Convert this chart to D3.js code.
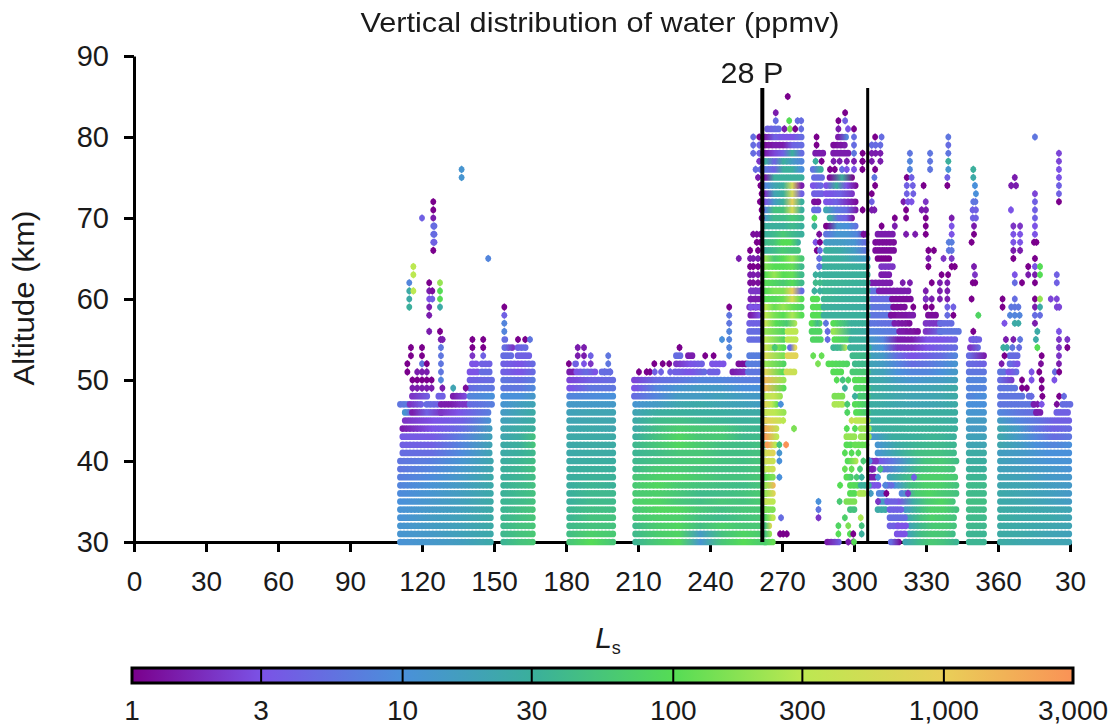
<!DOCTYPE html>
<html><head><meta charset="utf-8">
<script src="https://cdn.jsdelivr.net/npm/d3@7"></script>
<style>
html,body{margin:0;padding:0;background:#fff}
svg{display:block}
text{font-family:"Liberation Sans",Arial,sans-serif;fill:#1a1a1a}
</style></head><body>
<script>
// Runs of contiguous observations: [altitude km, Ls start, Ls end, ppmv at evenly spaced stops...]
const bandA = [
[30,111,149,11,13,16,24],[31,111,149,12,14,18,24],[32,111,149,12,15,18,25],[33,111,149,11,15,18,25],
[34,111,149,11,14,17,25],[35,111,149,10,13,17,25],[36,111,149,9,12,16,24],[37,111,149,8,11,15,24],
[38,111,149,7,9,14,24],[39,111,149,6,8,13,22],[40,111,149,6,7,12,22],[41,112,149,5,5,9,20],
[42,112,149,4,4,8,20],[43,112,149,3.5,3.5,7,18],[44,112,149,1.5,3,5,16],[45,113,149,2,3,4,12],
[46,113,116,12,3],[46,116,128,1.5,4,2],[46,128,149,2,3,5,7],[47,111,114,6,7],[47,115,120,2,4],
[47,122,127,5,4],[47,128,140,1.5,1.5,2,2],[47,140,149,5,7],[48,116,123,2,4],[48,127,129,4],[48,133,139,1.5,3],
[48,140,149,8,10],[49,140,149,5,6,6],[50,140,149,4,5],[51,140,143.5,3],[51,145,149,5],[52,141,143,3],[52,145,149,4]
];
const bandB = [
[30,154,167.5,35,50,60],[31,154,167.5,38,50,60],[32,154,167.5,38,48,55],[33,154,167.5,36,45,55],[34,154,167.5,35,45,55],
[35,154,167.5,35,40,50],[36,154,167.5,32,40,50],[37,154,167.5,32,38,48],[38,154,167.5,30,35,45],[39,154,167.5,30,36,50],
[40,154,167.5,28,35,45],[41,154,167.5,25,30,40],[42,154,167.5,25,30,55],[43,154,167.5,22,28,50],[44,154,167.5,22,26,30],
[45,154,167.5,18,22,28],[46,154,167.5,15,20,26],[47,154,167.5,12,16,20],[48,154,167.5,10,10,14],[49,154,167.5,6,6,9],
[50,154,167.5,6,5,7],[51,154,167,4,3,5],[52,154,167,4,3,5],[53,154,158,5],[53,160,165,4],[54,154.5,158,5,2],[54,160,163,4,5],[55,154.5,155.5,5]
];
const bandC = [
[30,181.5,199.5,55,100,55],[31,181.5,199.5,45,70,60],[32,181.5,199.5,40,50,50],[33,181.5,199.5,35,50,50],[34,181.5,199.5,35,45,45],
[35,181.5,199.5,30,40,40],[36,181.5,199.5,30,38,38],[37,181.5,199.5,28,35,32],[38,181.5,199.5,28,32,32],[39,181.5,199.5,28,30,30],
[40,181.5,199.5,25,28,28],[41,181.5,199.5,24,26,26],[42,181.5,199.5,24,26,26],[43,181.5,199.5,24,25,25],[44,181.5,199.5,22,24,22],
[45,181.5,199.5,20,22,22],[46,181.5,199.5,18,20,20],[47,181.5,199.5,14,14,14],[48,181.5,199.5,8,9,10],[49,181.5,199.5,3,6,6],
[50,181.5,199.5,2.5,4,5],[51,181.5,183,1.5],[51,184.5,192,3,5,3],[51,195,199.5,5],[52,184,185,4]
];
const bandD = [
[30,209,263,35,60,90,12,55,100,60],[31,209,263,40,65,80,15,50,80,60],[32,209,263,40,65,85,45,70,55,60],
[33,209,263,55,70,70,45,40,50,60],[34,209,263,55,85,85,55,45,55,60],[35,209,263,70,80,55,45,55,50,65],
[36,209,263,60,70,55,40,42,50,65],[37,209,263,60,85,60,50,45,42,55],[38,209,263,55,70,75,60,50,50,60],
[39,209,263,40,60,60,50,45,45,55],[40,209,263,38,48,55,60,50,45,55],[41,209,263,35,42,55,55,45,45,50],
[42,209,263,38,55,85,60,45,42,50],[43,209,263,30,50,80,55,60,38,42],[44,209,263,25,45,65,55,55,38,35],
[45,209,263,25,40,45,38,33,30,33],[46,209,263,20,28,30,28,28,25,25],[47,209,263,12,15,22,25,20,18,15],
[48,208.5,263,5,8,15,15,18,15,14],[49,208.5,263,3,8,12,15,14,10,10],[50,208.5,263,2.5,5,6,8,8,7,7],
[51,225.5,238,4,3,5],[51,240,244,4],[51,249.5,255,1.5,2],[51,256,261,6],
[52,226,237,2,3,4],[52,241,247,3],[52,252,255,1.2],[52,256,261,7],
[53,226,229,5],[53,231,233,1.5],[53,256.5,261,7],[55,256.5,261,5],[56,256.5,261,5],[57,256.5,261,4],[58,257,261,1.5,3],
[59,256.5,261,2],[60,257,261,1.5],[61,258,261,2]
];
const bandE = [
[30,263,266,70,120],[31,263,265.5,50,200],[32,263,265.5,50,600],[33,263,266,80,300],[34,263,266,150,150],[35,263,266,400,300],
[36,263,267,200,800],[37,263,267,200,1500],[38,263,266,100,150],[39,263,267,300,500],[40,263,267,500,400],[41,263,266.5,500,800],
[42,264,267,2500,300],[43,263,268,2500,300],[44,263,269,2000,300],[45,263,269.5,1000,400],[46,263,271,400,300,200],
[47,263,268.5,800,300,100],[48,263,270,300,400,200],[49,263,271,1500,100],[50,263,271,1500,200],[51,263,270.5,800,100],
[51,272,276.5,500,400],[52,263,271,200,80],[53,263,270.5,600,150],[53,272.5,276,800],[54,263,270.5,400,100],[54,273.5,275.5,5,800],
[55,263,271,300,80],[55,272.5,276.5,300],[56,263,271,200,80],[56,272.5,276.5,300],[57,263,276.5,400,100,60,300],
[58,263,278,300,150,100,250,100],[59,263,278,300,120,200,120,80],[60,263,278,100,90,120,600,100],[61,263,278,100,150,150,1000,5],
[62,263,278,100,80,60,100,40],[63,263,278,100,200,100,120,40],[64,263,278,150,100,100,120,40],[65,263,278,200,60,100,200,60],
[66,263,277.5,30,40,60,50,50],[67,263,277,40,50,100,100,30],[68,263,278,30,40,60,40,30],[69,263,278,30,30,30,40,30],
[70,263,278,15,40,40,60,40],[71,263,278,8,50,50,600,30],[72,263,278,3,15,30,1000,30],[73,263,278,2,20,30,600,4],
[74,263,278,8,20,30,600,1.5],[75,263,278,1.5,30,30,30,30],[76,263,278,6,4,30,30,10],[77,263,278,30,4,30,15,8],
[78,263,278,1.5,2.5,4,30,5],[79,263,278,1.2,1.5,1.5,4,5],[80,263,278,1.5,4,3,3,5],[81,264,268.5,4,5]
];
const bandE2 = [
[76,283,286,6,30],[75,283.5,287,5],[74,283,287,3,5],[73,283.5,287,4],[72,283.5,286.5,1.2],[71,283.5,286.5,5],[60,283,285.5,100,100],
[59,283,289,100,100],[58,283,286.5,100,100],[57,282.5,287,100,40,100],[56,282.5,287,80],[55,283,286.5,80],[78,284,287,1.5],
[43,297,300.5,200],[42,297,299.5,100],[40,297.5,302,100,300],[38,297,299.5,100,60],[37,298.5,302.5,100,80],[36,298.5,300.5,100],
[35,297,301,150],[34,298.5,301,50],[47,292,295,250],[48,292,295,150],[51,291.5,295.5,100],[30,289,294.5,1.5,4],
[74,288.5,301,3,30,3,1.2],[73,288.5,300,3,4,2],[72,288.5,301,3,4,2,1.2],[71,288.5,301,20,7,5,1.5],[70,290,300,30,5,4,1.2],
[69,288.5,302,1,12,10,5],[68,288.5,305.5,6,12,12,8,1.5],[67,288.5,306,15,15,12,4],[66,288.5,306,30,25,15,5],
[65,287.5,306,30,30,20,14],[64,287.5,306,30,30,28],[63,287.5,306,30,30],[62,287.5,306,35,30],[61,287.5,306,35,30,30],
[60,287.5,306,35,30,30],[59,287.5,306,30,28],[58,287.5,306,30,30],[57,291.5,306,100,30,30],[56,291.5,306,200,30,25],
[55,292,298,100,60],[55,299,306,30],[54,291.5,297,35,40,300],[54,298.5,306,30],[53,299.5,306,40],[52,289.5,298,100,80],
[52,300.5,306,40],[51,299.5,306,60],[50,300.5,306,100],[49,301,306,80],[48,302.5,306,60],[47,300.5,306,100,60],[46,301,306,100,60],
[45,301,306,300],[44,303,306,200],[43,303,306,200],[42,300.5,306,120],[37,303,306,30],[36,302.5,304.5,250],[80,293.5,297,1.5,8],
[79,291.5,297,1.2,1.5],[78,291.5,297.5,1.5],[75,290,300,1.2,30,1]
];
const bandF = [
[30,321.5,342.5,20,40,60,50,35],[31,323,342.5,20,45,60,55,40],[32,323.5,342.5,20,40,60,60,50],[33,322,342.5,20,45,70,60,50],
[34,321.5,342.5,15,40,70,70,50],[35,318.5,342.5,3,25,60,80,50],[36,320,342.5,8,60,80,60,50],[37,317,342.5,10,45,70,70,50],
[38,315,342.5,20,40,70,70,60],[39,311,342.5,5,15,45,60,50],[40,309.5,342.5,3,6,20,50,60,45],[41,310,342.5,12,25,45,50,40],
[42,310,342.5,12,25,35,40,35],[43,307,342.5,12,28,30,35,30],[44,306,342.5,28,30,32,32,30],[45,306,342.5,28,30,30,30,28],
[46,306,342.5,30,28,28,28,28],[47,306,342.5,28,25,22,20,20,22,25],[48,306,342.5,28,25,22,20,20,22,25],[49,306,342.5,28,25,22,20,20,22,25],
[50,306,342.5,25,22,15,12,14,15,18],[51,306,342.5,22,18,10,8,8,10,14],[52,306,342.5,20,15,8,5,6,8,12],[53,306,342.5,18,14,5,3,4,5,8],
[54,306,342.5,15,10,2,2,3,4,5],[55,306,342.5,15,8,1.5,1.5,3,3,4],[56,306.5,317.5,8,7,6],[56,319,327,1.5,1.2],[56,330,336,2,5],[56,336,343.5,6],
[57,307,317,6,5],[57,317,323.5,1.5,1.2],[57,330,336,2],[57,336,342,5],[58,307.5,315.5,6],[58,315.5,325,1.2,1.5],[58,331,335,1.2],
[59,307.5,316.5,6],[59,316.5,321,1.2],[60,307.5,315,5],[60,316,325,1.2],[61,307.5,310,6],[61,310.5,324,1.5],[62,307.5,316.5,1.5],
[63,311.5,315.5,1.5],[64,311.5,316,2],[65,310,315,1],[66,309,317,1.2],[67,309,317,1.2],[68,310,316.5,1.5],
[37,307,310,3],[38,307,309,1.5],[39,306.5,308,2],[35,310.5,314,15],[35,314,317.5,4],[34,310,314,25],[34,315,320.5,4],
[33,315,321,5],[32,315,318,4],[32,318.5,322,3],[31,318,322,3],[30,315.5,320,5,1],[36,310.5,312.5,8],[37,314,316,5],[40,307.5,310,2]
];
const bandG = [
[30,348,355,35],[31,348,355,35],[32,348,355,38],[33,348,355,40],[34,348,355,42],[35,348,355,45],[36,348,355,40],[37,348,355,40],
[38,348,355,35],[39,348,355,30],[40,348,355,28],[41,348,355,26],[42,348,355,20],[43,348,355,18],[44,348,355,15],[45,348,355,15],
[46,348,355,12],[47,348,355,10],[48,348,355,8,10],[49,348,355,8],[50,348,355,8],[51,348,355,6],[52,348,355,5,4],[53,348,354.5,5,1.5],
[54,348.5,352.5,2,5],[55,349,352,3,4]
];
const bandH = [
[30,361,390.5,26,22,20,20],[31,361,390.5,26,24,20,18],[32,361,390.5,26,24,22,20],[33,361,390.5,28,24,24,20],[34,361,390.5,26,24,22,20],
[35,361,390.5,24,22,18,15],[36,361,390.5,24,20,17,14],[37,361,390.5,22,20,16,14],[38,361,390.5,20,18,14,13],[39,361,390.5,18,16,14,11],
[40,361,390.5,18,14,11,11],[41,361,390.5,16,14,10,10],[42,361,390.5,22,16,10,8,10],[43,361,390.5,22,14,8,5,6],[44,361,390.5,22,14,6,4,5],
[45,361,390.5,15,8,6,4,4],[46,361,376,8,6,5],[46,376,378,1.5],[46,384.5,390.5,4],[47,361,375,6],[47,375,376,1.5],[47,387,390.5,5],
[48,361,371,6],[48,373,374,5],[49,361,367.5,6],[50,361,367,5,2],[51,361,364,6],[51,364.5,368,3,5],[52,365,368,5,3],[53,365,368,5]
];
// Isolated soundings: [altitude km, ppmv, Ls, Ls, ...]
const scatter = [
[85,1,272.4],[83,1.5,267.4],[83,1,296.3],[82,5,267.4],[82,100,273],[82,5,276.5,278],[82,1,293.5],[82,4,296.3],
[81,1.5,271],[81,150,273.3],[81,1,275.5],[81,5,278],[81,1.5,293.5],[81,3,297.5],[81,1,300],
[80,5,258],[80,1,260.5],[80,1,284.4],[80,5,300],[80,1,308.8],[80,5,311.5],[80,6,339.3,375.4],
[79,5,258],[79,4,260.5],[79,1,284.4],[79,5,300],[79,5,307.4,309,311,339.3],
[78,5,258],[78,4,260.5],[78,6,300],[78,1,303.6],[78,1.5,307.4,309,311],[78,6,323.3,331.7],[78,6,339.3],[78,2.5,385.4],
[77,2,260.5],[77,30,284],[77,1,286.5],[77,1.5,291.5,294,297,300,303.5],[77,1,303.6],[77,1.5,307.4,311],[77,8,323.3],[77,6,331.7],[77,30,339.3],[77,2.5,385.4],
[76,5,259,261],[76,1,290,292],[76,5,295],[76,3,297,300],[76,1,303.5,308.8],[76,8,323.3],[76,6,331.7],[76,12,339.3],[76,30,349.7],[76,3,385.4],[76,12,136.5],
[75,1.5,260],[75,1,322],[75,4,324],[75,6,308.5],[75,4,338.9],[75,25,349.7],[75,1.5,367],[75,3,385.4],[75,12,136.5],
[74,1,261],[74,1,308.8,329,338.9],[74,4,322,324.5],[74,10,350.4],[74,1.5,365.5,367.5],[74,4,385.4],
[73,1,261.5,307.4],[73,4,322,324.7],[73,10,350.8],[73,2.5,375.4],[73,4,385.4],
[72,1,260.8],[72,4,307.4],[72,1.5,320.6],[72,3,322.5,324],[72,2,329.9],[72,6,349.7,350.6],[72,4,375.4],[72,1,385.4],[72,1,124.7],
[71,1,261.5],[71,1,303.6],[71,1.5,307.4,308.5],[71,1,321.7],[71,1.5,328.2,330],[71,4,349.4,350.8],[71,3,365.4],[71,4,375.4],[71,1,124.7],
[70,1,261.5,317,321.7,329.9],[70,100,283.5],[70,1.5,340.7],[70,4,349.5,350.8],[70,4,375.4],[70,1.5,124.7],[70,4,120],
[69,30,283.5],[69,1,311.5],[69,1.5,317],[69,1,329.9],[69,3,340.7],[69,1.5,350],[69,2,366.4,369.2],[69,3,375.4],[69,5,124.7,125.2],
[68,1.2,258,259.5,261],[68,1.2,285.5],[68,1.2,304],[68,1.5,321.7,325.5],[68,1,329.9],[68,3,340.7],[68,1,350],[68,3,366.4,369.2,375.4],[68,5,124.7,125.2],
[67,1,259.5,261],[67,3,284],[67,1,285.8],[67,7,339.5,340.7],[67,1,349],[67,3,366.4,369.2],[67,1,375,376],[67,4,124.7,125.2],
[66,1,256.7,260],[66,1,284.5],[66,5,285.8],[66,1,331,333.3],[66,6,339.5,340.7],[66,1.5,366.4,369.2],[66,1,124.7],
[65,1.5,256.7,258,260],[65,5,285.5],[65,1.5,331],[65,2,337.3],[65,2,340.7],[65,1,366.4,375.4],[65,8,147.6],[65,1.5,252],
[64,1,256.7,258,260],[64,6,285.5],[64,1,331],[64,1,340.7,342],[64,1.5,350],[64,1,372.6],[64,3,375.4],[64,100,377.5],[64,300,116.4],
[63,1.5,256.7,258,260],[63,30,284],[63,30,285.8],[63,1,336.5,339.2],[63,2,350.4],[63,3,367],[63,1.5,372.6,375.4],[63,100,377.5],[63,4,384.5],[63,300,116.4],
[62,1.2,256.7,258,260],[62,40,284,285.8],[62,1.5,320.3,323.3],[62,1,332.4],[62,1.5,335.8,338.9],[62,1,349.5,350.5],[62,5,367],[62,1,370],[62,1,375.4],[62,4,384.5],[62,8,114.7],[62,1,123],[62,200,127.5],
[61,2,257,259,261],[61,30,283.5,285.8],[61,1.5,329.9],[61,1.5,335.8,338.9],[61,25,114.7],[61,300,116.4],[61,1.5,123],[61,1.2,124.3],[61,100,127.5],
[60,1.5,257,259,261],[60,1.2,329.9],[60,2,329.9],[60,1.5,332.4],[60,1.5,335.8,338.9],[60,1,349],[60,1,361.9],[60,5,367],[60,1,375.4],[60,200,377.5],[60,2.5,382,384.5],[60,25,114.7],[60,3,123],[60,4,124.3],[60,100,127.5],
[59,3,257,259,261],[59,1,248],[59,1,324.7],[59,1,329.9,332.4],[59,4,338.9,341.4],[59,1,361.9],[59,6,365.5,367,368.5],[59,1.5,375.4],[59,25,377.5],[59,2.5,384.5,385.5],[59,30,114.7],[59,1.5,123],[59,25,127.5],[59,1,154.3],
[58,6,248],[58,1.5,123],[58,5,338.9],[58,1,341.4],[58,80,351.8],[58,8,365,367,369],[58,5,375.4,377.5],[58,4,154.3],
[57,6,248],[57,3,362.7],[57,25,367,368.5],[57,1.5,375.4],[57,8,154.3],
[56,8,248],[56,1,349.7],[56,25,376.4],[56,3,385.4],[56,1.5,123],[56,1,127.5],[56,8,154.3],
[55,8,248],[55,10,245],[55,4,349.7,351],[55,1.5,363.3,366.4],[55,6,369.2],[55,25,375.8],[55,2,385.4,388.9],[55,1.5,127.8,128.6],[55,1,141,145.5],[55,1,160,163],[55,6,165],
[54,8,248],[54,1,227.3],[54,30,362.2],[54,25,363.7],[54,6,366],[54,5,368.8],[54,100,376.4],[54,2,385.4],[54,1,388.9],[54,1,115.4,120],[54,6,127.9],[54,1,141,145.5],[54,1.5,184.9,187.5],
[53,8,248],[53,1,238,241.5],[53,1,362.7],[53,1,378.2],[53,2,385.4],[53,1,115.4,120],[53,6,127.9],[53,2,141],[53,4,145.5],[53,1.5,184.9,187.5],[53,4,190.3],[53,6,197.6],
[52,1,216.8,220.3,223],[52,1.5,361.5],[52,1.2,377.9],[52,1.5,385.4],[52,1,113.9],[52,6,120],[52,1,122],[52,6,127.9],[52,1,181.2],[52,3,187.5],[52,2,190.3],[52,6,197.6],
[51,1,210.4,213.6,215],[51,4,217,219.6,223.4],[51,3,374],[51,1,377.2],[51,5,383.7],[51,1,385.5],[51,1,113.9],[51,1.5,118,120,122],[51,6,127.9],[51,5,196],[51,5,198.5],
[50,3,374],[50,1,370],[50,1,378.2],[50,3,383.5],[50,8,127.9],[50,1,116,118,120,122,124],
[49,1,370,372],[49,1,378.2],[49,1.5,116,118,120,122,124],[49,1.5,128.5],[49,20,133],[49,1.2,138.2],
[48,5,374],[48,1,378.5],[48,1,385.5],[48,5,387.5],
[47,1.5,376.5],[47,3,378.2],[47,1.2,384.5],
[40,2,306.5],[39,1.5,307.5],[38,10,310],[37,8,313],[36,1,313.5],[36,15,307],[35,2,310],
[40,10,306.5],[39,50,311],[42,50,268.9],[42,3000,271.7],[41,12,268.9],[40,10,268.9],[38,10,268.9],[33,5,269.6],
[47,10,269.5],[45,300,270.5],[44,150,275],[54,60,267],[35,10,285.2],[34,6,285.2],[33,2,285.2],
[57,6,288.3],[56,5,289],[55,5,289],[53,120,283],[53,120,286.5],[52,150,285],[50,100,292.8],[50,50,295.3],[50,80,297.6],
[49,30,296.2],[48,30,300.4],[47,60,297.2],[46,80,297.2],[45,400,299],[44,100,297],[44,100,300.4],[41,100,296.2,299,301.8],
[39,120,296.2,299],[39,60,302.5],[38,60,301.1],[38,30,303.2],[37,100,294.2],[35,60,294],[33,70,296.2],[33,250,302.8],
[32,80,293.5],[32,150,297.6],[32,50,303.2],[31,100,293.5],[31,100,298.3],[31,30,303.2],[31,1,269.2,270.5,272],[31,1,299.7],
[30,1,299.7],[30,1.5,297.6],[30,100,300],[40,60,303.9],
[38,4,325],[36,2,322.5]
];
// Colour scale stops and axis labels
const colorValues = [1,3,10,30,100,300,1000,3000];
const colorStops  = ["#7a008c","#7b52e6","#4a90da","#3aaf9c","#55dc55","#bce851","#e9cf58","#fa9256"];
const colorLabels = ["1","3","10","30","100","300","1,000","3,000"];
const lsTicks  = [0,30,60,90,120,150,180,210,240,270,300,330,360,390];
const altTicks = [30,40,50,60,70,80,90];
const periodMarkers = [261.8,305.7];

const W=1117,H=726;
const x=d3.scaleLinear().domain([0,390]).range([134,1070]);
const y=d3.scaleLinear().domain([30,90]).range([542,56]);
const c=d3.scaleLog().domain(colorValues).range(colorStops).interpolate(d3.interpolateRgb).clamp(true);
const cbx=d3.scaleLog().domain([1,3000]).range([132,1073]);

const svg=d3.select("body").append("svg").attr("width",W).attr("height",H);
const defs=svg.append("defs");
defs.append("filter").attr("id","soft").attr("filterUnits","userSpaceOnUse").attr("x",0).attr("y",0).attr("width",W).attr("height",H)
  .append("feGaussianBlur").attr("stdDeviation",0.55);

// Axes
const xAxis=d3.axisBottom(x).tickValues(lsTicks).tickSize(10).tickSizeOuter(0).tickPadding(19).tickFormat(d=>d>360?d-360:d);
const yAxis=d3.axisLeft(y).tickValues(altTicks).tickSize(10).tickSizeOuter(0).tickPadding(15);
const gx=svg.append("g").attr("transform","translate(0,542)").call(xAxis);
const gy=svg.append("g").attr("transform","translate(134,0)").call(yAxis);
[gx,gy].forEach(g=>{
  g.selectAll("path,line").attr("stroke","#000").attr("stroke-width",3);
  g.selectAll("text").attr("font-family","Liberation Sans").attr("fill","#1a1a1a");
});
gx.selectAll("text").attr("font-size",28);
gy.selectAll("text").attr("font-size",29);

// Marks: each run is a beaded stroke of overlapping round soundings
const plot=svg.append("g").attr("filter","url(#soft)");
const runs=[].concat(bandA,bandB,bandC,bandD,bandF,bandG,bandH,bandE2,bandE);
runs.forEach((r,i)=>{
  const [alt,l0,l1,...vals]=r;
  let stroke;
  if(vals.length===1){stroke=c(vals[0]);}
  else{
    const id="g"+i;
    const g=defs.append("linearGradient").attr("id",id).attr("gradientUnits","userSpaceOnUse")
      .attr("x1",x(l0)).attr("x2",x(l1)).attr("y1",0).attr("y2",0);
    vals.forEach((v,k)=>g.append("stop").attr("offset",k/(vals.length-1)).attr("stop-color",c(v)));
    stroke=`url(#${id})`;
  }
  plot.append("line").attr("x1",x(l0)).attr("x2",x(l1)).attr("y1",y(alt)).attr("y2",y(alt))
    .attr("stroke",stroke).attr("stroke-width",6.7).attr("stroke-linecap","round").attr("stroke-dasharray","0 3.6");
});
const sounding={draw(ctx){ctx.moveTo(0,-3.8);ctx.lineTo(2.4,-2);ctx.lineTo(3,0);ctx.lineTo(2.4,2);ctx.lineTo(0,3.8);ctx.lineTo(-2.4,2);ctx.lineTo(-3,0);ctx.lineTo(-2.4,-2);ctx.closePath();}};
const symbolPath=d3.symbol().type(sounding)();
scatter.forEach(([alt,v,...lss])=>{
  lss.forEach(l=>{
    plot.append("path").attr("d",symbolPath).attr("transform",`translate(${x(l)},${y(alt)})`).attr("fill",c(v));
  });
});

// Period markers
periodMarkers.forEach((m,i)=>{
  svg.append("line").attr("x1",x(m)).attr("x2",x(m)).attr("y1",88).attr("y2",542)
    .attr("stroke","#000").attr("stroke-width",i?3:4);
});
svg.append("text").attr("x",752).attr("y",83).attr("text-anchor","middle").attr("font-size",29)
  .attr("textLength",63).attr("lengthAdjust","spacingAndGlyphs").text("28 P");

// Titles
svg.append("text").attr("x",600).attr("y",32).attr("text-anchor","middle").attr("font-size",28)
  .attr("textLength",479).attr("lengthAdjust","spacingAndGlyphs").text("Vertical distribution of water (ppmv)");
svg.append("text").attr("transform","translate(34,298) rotate(-90)").attr("text-anchor","middle").attr("font-size",29)
  .attr("textLength",175).attr("lengthAdjust","spacingAndGlyphs").text("Altitude (km)");
const ls=svg.append("text").attr("x",608).attr("y",648).attr("text-anchor","middle").attr("font-size",30);
ls.append("tspan").attr("font-style","italic").text("L");
ls.append("tspan").attr("font-size",18).attr("dy",6).text("s");

// Colour bar
const grad=defs.append("linearGradient").attr("id","cb");
colorValues.forEach(v=>grad.append("stop").attr("offset",(cbx(v)-132)/941).attr("stop-color",c(v)));
svg.append("rect").attr("x",132).attr("y",668).attr("width",941).attr("height",15)
  .attr("fill","url(#cb)").attr("stroke","#000").attr("stroke-width",3);
colorValues.slice(1,-1).forEach(v=>svg.append("line").attr("x1",cbx(v)).attr("x2",cbx(v)).attr("y1",668).attr("y2",683).attr("stroke","#000").attr("stroke-width",2));
colorValues.forEach((v,i)=>svg.append("text").attr("x",cbx(v)).attr("y",720).attr("text-anchor","middle").attr("font-size",28).text(colorLabels[i]));
</script>
</body></html>
